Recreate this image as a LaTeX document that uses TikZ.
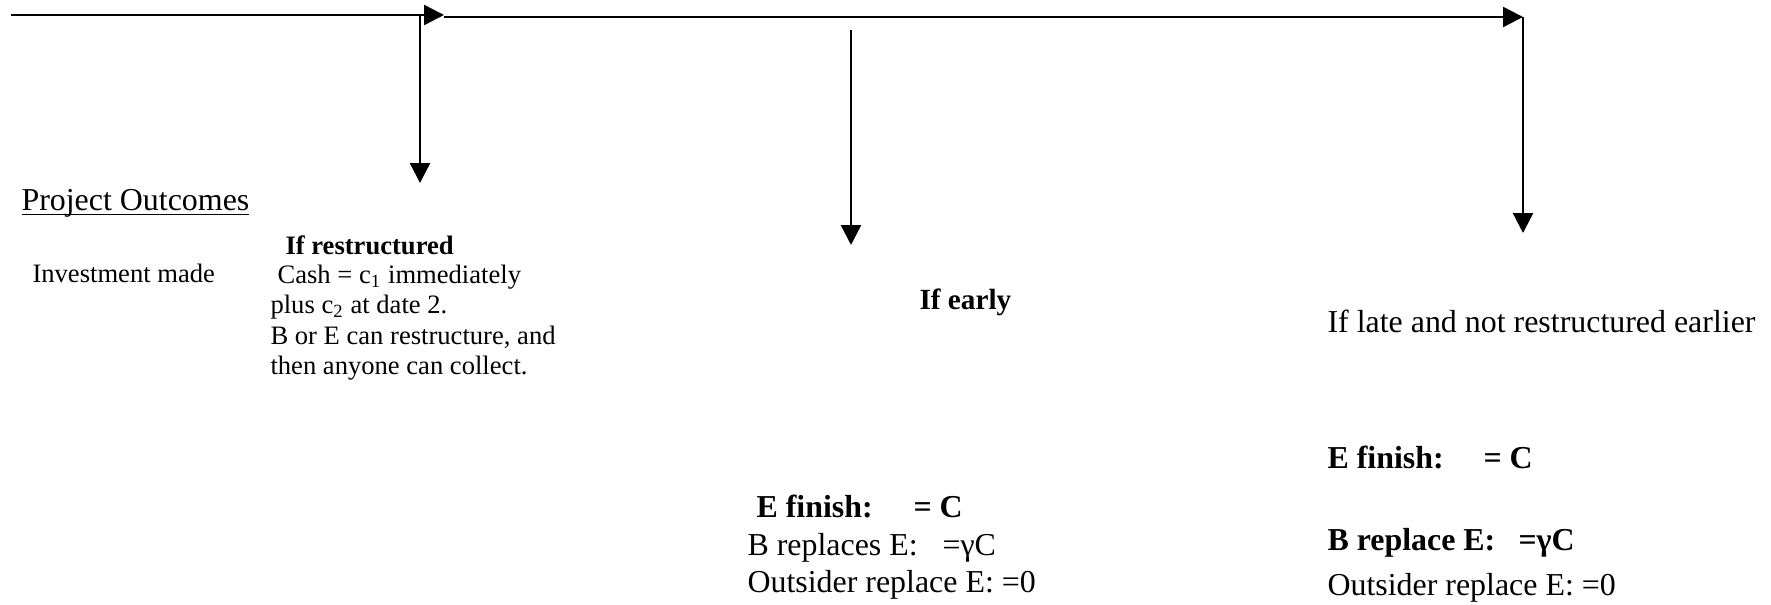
\documentclass[tikz,border=0pt]{standalone}
\usepackage{fontspec}
\setmainfont{Liberation Serif}
\usetikzlibrary{arrows.meta}

\begin{document}
\begin{tikzpicture}[x=0.376pt,y=-0.376pt,
  tl/.style={line width=0.9pt,-{Triangle[length=7.5pt,width=7.5pt]}},
  txt/.style={anchor=base west,inner sep=0pt,font=\fontsize{12}{14}\selectfont},
  sml/.style={txt,font=\fontsize{10}{12}\selectfont},
  bld/.style={txt,font=\fontsize{12}{14}\selectfont\bfseries}]
\useasboundingbox (0,0) rectangle (1771,605);
% time line and branches
\coordinate (s0) at (11,15);
\coordinate (s1) at (444,15);
\coordinate (s2) at (444,17);
\coordinate (s3) at (1523,17);
\coordinate (r0) at (420,15);
\coordinate (r1) at (420,183);
\coordinate (e0) at (851,30);
\coordinate (e1) at (851,245);
\coordinate (l1) at (1523,233);
\draw[tl] (s0) -- (s1);
\draw[tl] (s2) -- (s3);
\draw[tl] (r0) -- (r1);
\draw[tl] (e0) -- (e1);
\draw[tl] (s3) -- (l1);
% left column
\node[txt] (po) at (21,211) {\underline{\smash{Project Outcomes}}};
\node[sml] (inv) at (32,283) {Investment made};
\node[sml,font=\fontsize{10}{12}\selectfont\bfseries] (rs) at (285,255) {If restructured};
\node[sml] (rs1) at (277,284) {Cash = c\textsubscript{1} immediately};
\node[sml] (rs2) at (270,314) {plus c\textsubscript{2} at date 2.};
\node[sml] (rs3) at (270,345) {B or E can restructure, and};
\node[sml] (rs4) at (270,375) {then anyone can collect.};
% early
\node[txt,font=\fontsize{11}{13}\selectfont\bfseries] (early) at (919,310) {If early};
\node[bld] (ef1) at (756,518) {E finish:};
\node[bld] (ef2) at (913,518) {= C};
\node[txt] (eb1) at (747,556) {B replaces E:};
\node[txt] (eb2) at (942,556) {=γC};
\node[txt] (eo) at (747,593) {Outsider replace E: =0};
% late
\node[txt] (late) at (1327,333) {If late and not restructured earlier};
\node[bld] (lf1) at (1327,469) {E finish:};
\node[bld] (lf2) at (1483,469) {= C};
\node[bld] (lb1) at (1327,551) {B replace E:};
\node[bld] (lb2) at (1518,551) {=γC};
\node[txt] (lo) at (1327,596) {Outsider replace E: =0};
\end{tikzpicture}
\end{document}
